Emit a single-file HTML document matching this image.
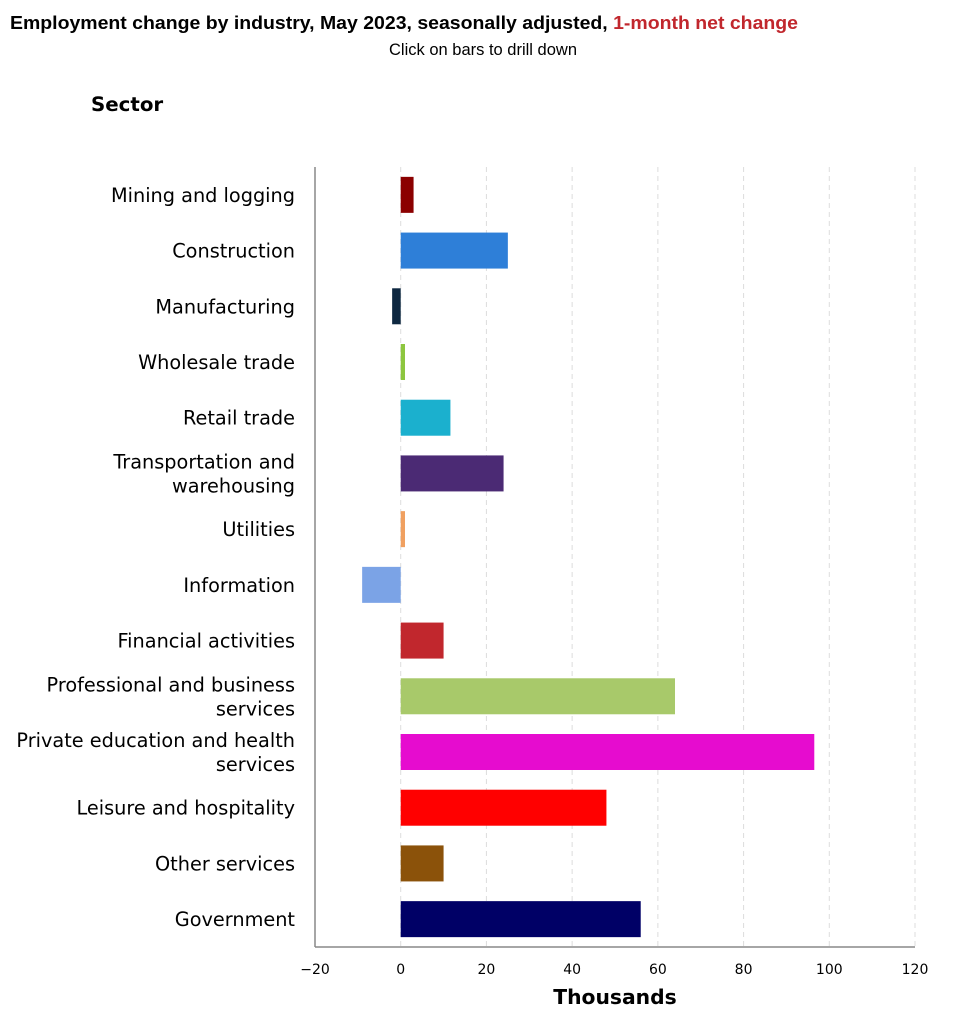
<!DOCTYPE html>
<html><head><meta charset="utf-8"><style>
body{margin:0;background:#fff;font-family:"Liberation Sans",sans-serif;}
svg{display:block}
</style></head><body>
<svg id="chart" width="961" height="1024">
<text x="10" y="29" font-size="18" font-weight="bold" fill="#000" textLength="788" lengthAdjust="spacingAndGlyphs">Employment change by industry, May 2023, seasonally adjusted, <tspan fill="#c1272d">1-month net change</tspan></text>
<text x="483" y="55" text-anchor="middle" font-size="16.5" fill="#000">Click on bars to drill down</text>
<text x="91" y="111" font-size="19.8" font-weight="bold" font-family="DejaVu Sans, sans-serif" fill="#000">Sector</text>
<text x="615" y="1004" text-anchor="middle" font-size="20.3" font-weight="bold" font-family="DejaVu Sans, sans-serif" fill="#000">Thousands</text>
<g id="grid"></g><g id="bars"></g><g id="labels"></g><g id="ticks"></g>
<line x1="315" y1="167" x2="315" y2="947" stroke="#888" stroke-width="1.5"/>
<line x1="315" y1="947" x2="915" y2="947" stroke="#888" stroke-width="1.5"/>
</svg>
<script>
const categories=[["Mining and logging"],["Construction"],["Manufacturing"],["Wholesale trade"],["Retail trade"],["Transportation and","warehousing"],["Utilities"],["Information"],["Financial activities"],["Professional and business","services"],["Private education and health","services"],["Leisure and hospitality"],["Other services"],["Government"]];
const values=[3,25,-2,1,11.6,24,1,-9,10,64,96.5,48,10,56];
const colors=["#8b0000","#2e7fd8","#0e2841","#8dc63f","#1bb0ce","#4b2a74","#f0a060","#7ba3e6","#c1272d","#a8c96a","#e60ccf","#ff0000","#8b520a","#000066"];
const tickValues=[-20,0,20,40,60,80,100,120];
const NS="http://www.w3.org/2000/svg";
const xMin=-20,xMax=120,pxL=315,pxR=915,plotTop=167,plotBottom=947;
const x=v=>pxL+(v-xMin)/(xMax-xMin)*(pxR-pxL);
const band=(plotBottom-plotTop)/categories.length;
const yc=i=>plotTop+band*(i+0.5);
function mk(t,a,p){const e=document.createElementNS(NS,t);for(const k in a)e.setAttribute(k,a[k]);document.getElementById(p).appendChild(e);return e;}
tickValues.forEach(t=>{
 if(t>xMin){const g=mk("line",{x1:x(t),x2:x(t),y1:plotTop,y2:plotBottom,stroke:"#ddd","stroke-dasharray":"5,4"},"grid");
 
 }
 const tl=mk("text",{x:x(t),y:974,"text-anchor":"middle","font-size":"14","font-family":"DejaVu Sans, sans-serif",fill:"#000"},"ticks");
 tl.textContent=t<0?"\u2212"+(-t):t;
 
 
});
categories.forEach((c,i)=>{
 const v=values[i];const bh=36;
 const r=mk("rect",{x:Math.min(x(0),x(v)),y:yc(i)-bh/2,width:Math.abs(x(v)-x(0)),height:bh,fill:colors[i],style:"cursor:pointer"},"bars");
 
 
 const t=mk("text",{x:295,"text-anchor":"end","font-size":"19.3","font-family":"DejaVu Sans, sans-serif",fill:"#000"},"labels");
 
 
 const y0=c.length>1?yc(i)-5:yc(i)+7;
 c.forEach((s,j)=>{const ts=document.createElementNS(NS,"tspan");ts.setAttribute("x",295);ts.setAttribute("y",y0+j*24);ts.textContent=s;t.appendChild(ts);});
});
</script>
</body></html>
